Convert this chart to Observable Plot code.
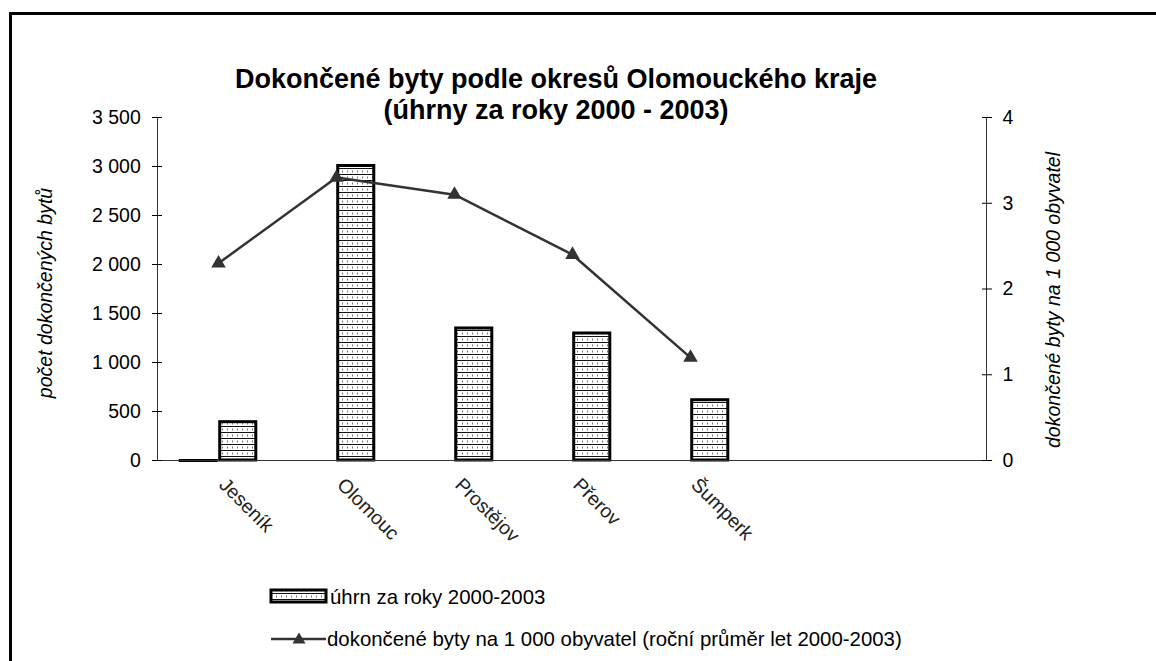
<!DOCTYPE html>
<html><head><meta charset="utf-8">
<script src="https://cdn.jsdelivr.net/npm/d3@7"></script>
<script src="https://cdn.jsdelivr.net/npm/@observablehq/plot@0.6"></script>
<style>
body{margin:0;background:#fff;font-family:"Liberation Sans",Arial,sans-serif;}
#wrap{position:relative;width:1156px;height:661px;overflow:hidden;background:#fff}
#border{position:absolute;left:9px;top:12px;width:1200px;height:700px;border-top:3px solid #000;border-left:3px solid #000;box-sizing:border-box}
#title{position:absolute;left:156px;width:800px;top:64px;text-align:center;font-weight:bold;font-size:27px;line-height:31px;color:#000}
#chart{position:absolute;left:0;top:0}
.leg{position:absolute;font-size:20.4px;line-height:24px;color:#000;white-space:nowrap}
.sw{position:absolute}
</style></head><body>
<svg width="0" height="0" style="position:absolute"><defs>
<pattern id="vzor" width="5" height="6" patternUnits="userSpaceOnUse">
<rect width="5" height="6" fill="#fff"/><rect y="0" width="5" height="1" fill="#111"/><rect x="2" y="2.5" width="1" height="2" fill="#777"/>
</pattern></defs></svg>
<div id="wrap">
<div id="border"></div>
<div id="chart"></div>
<div id="title">Dokončené byty podle okresů Olomouckého kraje<br>(úhrny za roky 2000 - 2003)</div>
<svg class="sw" style="left:269px;top:587px" width="60" height="18"><rect x="2" y="3" width="55" height="12" fill="url(#vzor)" stroke="#000" stroke-width="3"/></svg>
<div class="leg" style="left:330px;top:585px">úhrn za roky 2000-2003</div>
<svg class="sw" style="left:269px;top:628px" width="60" height="22"><line x1="2" x2="57" y1="11" y2="11" stroke="#333" stroke-width="2.5"/><path d="M30,4.5 L36.5,15.5 L23.5,15.5 Z" fill="#333"/></svg>
<div class="leg" style="left:327px;top:627px">dokončené byty na 1 000 obyvatel (roční průměr let 2000-2003)</div>
</div>
<script>
const okresy = ["Jeseník","Olomouc","Prostějov","Přerov","Šumperk"];
const prazdneKategorie = ["", " "];
const uhrn = [391, 3005, 1347, 1296, 615];
const prazdnaRada = [0, null, null, null, null];
const naTisic = [2.3, 3.3, 3.1, 2.4, 1.2];
const levaOsa = [0, 500, 1000, 1500, 2000, 2500, 3000, 3500];
const pravaOsa = [0, 1, 2, 3, 4];
const maxLeva = 3500, maxPrava = 4;
const k = maxLeva / maxPrava;

const rows = okresy.map((o, i) => ({okres: o, uhrn: uhrn[i], prazdna: prazdnaRada[i], naTisic: naTisic[i]}));

const W = 1156, H = 661, mL = 157, mR = 170, mT = 117, mB = 201;
const band = (W - mL - mR) / 7;
const barW = 39.5;

const chart = Plot.plot({
  width: W, height: H, marginLeft: mL, marginRight: mR, marginTop: mT, marginBottom: mB,
  style: {fontFamily: '"Liberation Sans", Arial, sans-serif', fontSize: "19.5px", background: "transparent", color: "#000", overflow: "visible"},
  x: {domain: [...okresy, ...prazdneKategorie], padding: 0, axis: null, label: null},
  y: {domain: [0, maxLeva], axis: null, label: null},
  marks: [
    Plot.barY(rows, {x: "okres", y: "uhrn", fill: "url(#vzor)", stroke: "#000", strokeWidth: 3,
      insetLeft: band / 2 + 1.5, insetRight: band / 2 - barW + 1.5}),
    Plot.tickY(rows.filter(d => d.prazdna != null), {x: "okres", y: "prazdna", stroke: "#000", strokeWidth: 3,
      insetLeft: band / 2 - barW, insetRight: band / 2}),
    Plot.ruleY([0], {stroke: "#333", strokeWidth: 1.2}),
    Plot.frame({anchor: "left", stroke: "#333"}),
    Plot.frame({anchor: "right", stroke: "#333"}),
    Plot.line(rows, {x: "okres", y: d => d.naTisic * k, stroke: "#333", strokeWidth: 2.5}),
    Plot.dot(rows, {x: "okres", y: d => d.naTisic * k, symbol: "triangle", r: 5.4, fill: "#333", stroke: "none"}),
    Plot.axisX({tickRotate: 45, tickSize: 0, tickPadding: 21, dx: 4, fill: "#222", label: null}),
    Plot.axisY({anchor: "left", ticks: levaOsa, tickSize: 10, dx: 5, tickPadding: 11.7, label: null,
      tickFormat: d => d3.format(",")(d).replace(/,/g, " ")}),
    Plot.axisY({anchor: "right", ticks: pravaOsa.map(v => v * k), tickSize: 10, dx: -5, tickPadding: 11, label: null,
      tickFormat: d => String(Math.round(d / k))}),
    Plot.text(["počet dokončených bytů"], {frameAnchor: "left", textAnchor: "middle", dx: -112, dy: 4, rotate: -90, fontStyle: "italic"}),
    Plot.text(["dokončené byty na 1 000 obyvatel"], {frameAnchor: "right", textAnchor: "middle", dx: 67, dy: 11, rotate: -90, fontStyle: "italic"})
  ]
});
document.getElementById("chart").appendChild(chart);
</script>
</body></html>
